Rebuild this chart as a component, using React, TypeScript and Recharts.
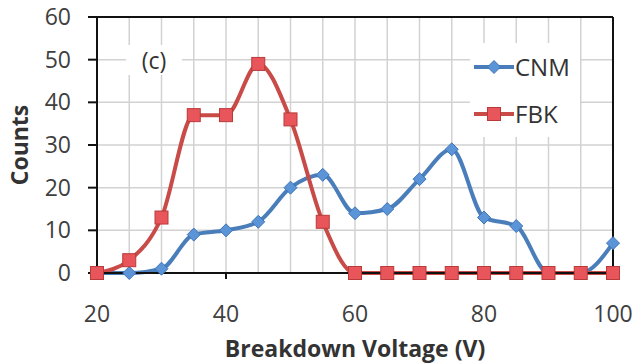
import { LineChart, Line, XAxis, YAxis, CartesianGrid, Legend, ReferenceLine } from "recharts";

const voltage = [20, 25, 30, 35, 40, 45, 50, 55, 60, 65, 70, 75, 80, 85, 90, 95, 100];
const cnm = [0, 0, 1, 9, 10, 12, 20, 23, 14, 15, 22, 29, 13, 11, 0, 0, 7];
const fbk = [0, 3, 13, 37, 37, 49, 36, 12, 0, 0, 0, 0, 0, 0, 0, 0, 0];
const xTicks = [20, 40, 60, 80, 100];
const yTicks = [0, 10, 20, 30, 40, 50, 60];
const xGrid = voltage;
const yGrid = [0, 5, 10, 15, 20, 25, 30, 35, 40, 45, 50, 55, 60];

const BLUE = "#4a7ebb";
const RED = "#c84b48";
const FONT = "'Open Sans', sans-serif";

const data = voltage.map((v, i) => ({ v, CNM: cnm[i], FBK: fbk[i] }));

function Diamond({ cx, cy }: { cx: number; cy: number }) {
  const r = 6.5;
  return (
    <polygon
      points={`${cx},${cy - r} ${cx + r},${cy} ${cx},${cy + r} ${cx - r},${cy}`}
      fill="#5b95d8"
      stroke="#3f74b8"
      strokeWidth={1}
    />
  );
}

function Square({ cx, cy }: { cx: number; cy: number }) {
  const s = 13;
  return <rect x={cx - s / 2} y={cy - s / 2} width={s} height={s} fill="#e8555a" stroke="#b93a3a" strokeWidth={1} />;
}

function LegendBox() {
  const row = (name: string, color: string, marker: "d" | "s") => (
    <div style={{ display: "flex", alignItems: "center", height: 47 }}>
      <svg width={44} height={20}>
        <line x1={2} y1={10} x2={42} y2={10} stroke={color} strokeWidth={4} />
        {marker === "d" ? <Diamond cx={22} cy={10} /> : <Square cx={22} cy={10} />}
      </svg>
      <span style={{ fontFamily: FONT, fontSize: 24, color: "#333", marginLeft: -1 }}>{name}</span>
    </div>
  );
  return (
    <div style={{ background: "#fff", width: 108, height: 94, paddingLeft: 2 }}>
      {row("CNM", BLUE, "d")}
      {row("FBK", RED, "s")}
    </div>
  );
}

export default function App() {
  return (
    <div style={{ position: "absolute", left: 0, top: 0, width: 635, height: 364, background: "#fff" }}>
      <LineChart width={635} height={364} data={data} margin={{ top: 17, right: 22, left: 0, bottom: 0 }}>
        <CartesianGrid stroke="#d2d2d2" strokeWidth={1.5} horizontalValues={yGrid} verticalValues={xGrid} />
        <XAxis
          dataKey="v"
          type="number"
          domain={[20, 100]}
          ticks={xTicks}
          height={91}
          tickSize={6}
          tickMargin={27}
          axisLine={{ stroke: "#111", strokeWidth: 2 }}
          tickLine={{ stroke: "#111", strokeWidth: 2 }}
          tick={{ fill: "#404040", fontSize: 23, fontFamily: FONT }}
          label={(p: any) => {
            const vb = p.viewBox;
            return (
              <text x={vb.x + vb.width / 2} y={357} textAnchor="middle" fontFamily={FONT} fontSize={23} fontWeight="bold" fill="#333">
                Breakdown Voltage (V)
              </text>
            );
          }}
        />
        <YAxis
          type="number"
          domain={[0, 60]}
          ticks={yTicks}
          width={97}
          tickSize={9}
          tickMargin={17}
          axisLine={{ stroke: "#111", strokeWidth: 2 }}
          tickLine={{ stroke: "#111", strokeWidth: 2 }}
          tick={{ fill: "#404040", fontSize: 23, fontFamily: FONT }}
          label={(p: any) => {
            const vb = p.viewBox;
            const cy = vb.y + vb.height / 2;
            return (
              <text x={28} y={cy} transform={`rotate(-90 28 ${cy})`} textAnchor="middle" fontFamily={FONT} fontSize={23} fontWeight="bold" fill="#333">
                Counts
              </text>
            );
          }}
        />
        <ReferenceLine y={60} stroke="#111" strokeWidth={2} />
        <ReferenceLine x={100} stroke="#111" strokeWidth={2} />
        <Legend
          layout="horizontal"
          verticalAlign="middle"
          align="center"
          content={() => <LegendBox />}
          wrapperStyle={{ left: 470, top: 43, width: 108, height: 94 }}
        />
        <Line
          type="monotone"
          dataKey="CNM"
          stroke={BLUE}
          strokeWidth={4}
          isAnimationActive={false}
          dot={(p: any) => <Diamond key={`c${p.index}`} cx={p.cx} cy={p.cy} />}
        />
        <Line
          type="monotone"
          dataKey="FBK"
          stroke={RED}
          strokeWidth={4}
          isAnimationActive={false}
          dot={(p: any) => <Square key={`f${p.index}`} cx={p.cx} cy={p.cy} />}
        />
      </LineChart>
      <div
        style={{
          position: "absolute",
          left: 126,
          top: 45,
          width: 56,
          height: 30,
          background: "#fff",
          fontFamily: FONT,
          fontSize: 23,
          color: "#333",
          textAlign: "center",
          lineHeight: "30px",
        }}
      >
        (c)
      </div>
    </div>
  );
}
